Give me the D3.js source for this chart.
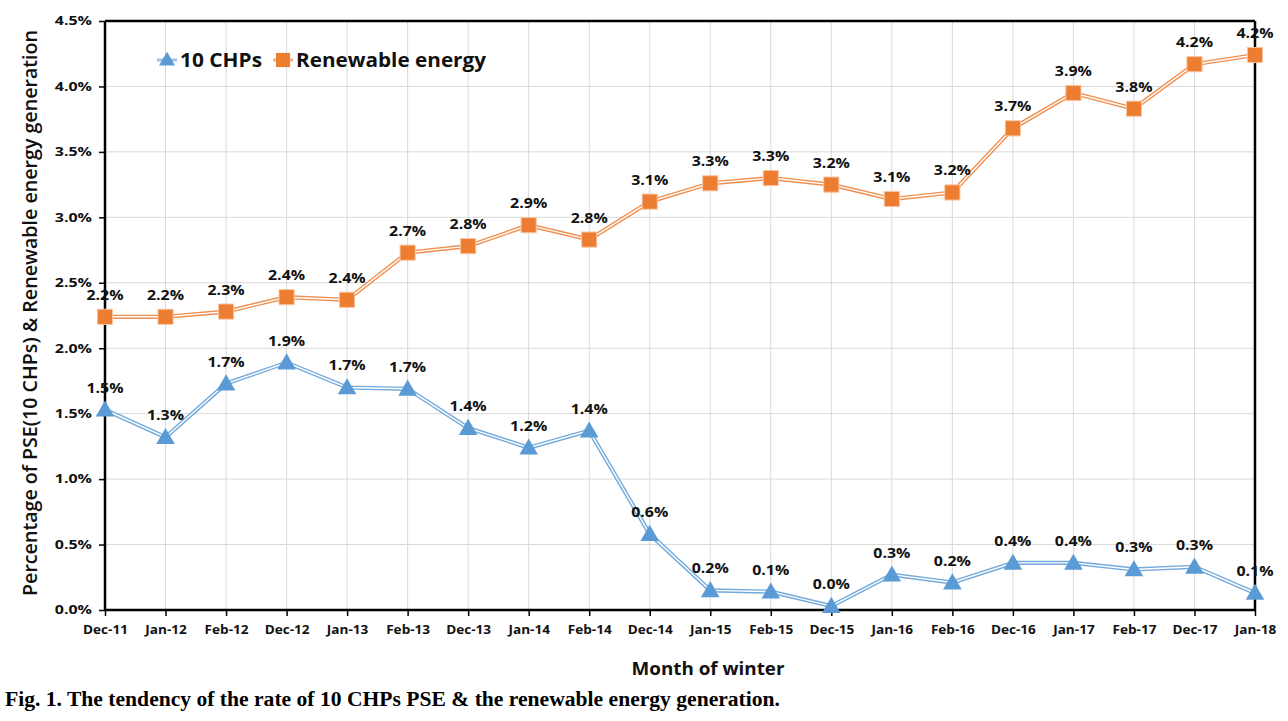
<!DOCTYPE html>
<html><head><meta charset="utf-8">
<script src="https://cdn.jsdelivr.net/npm/d3@7"></script>
<style>body{margin:0;background:#fff;} svg{display:block;}</style>
</head><body>
<svg id="c" width="1288" height="721"></svg>
<script>
const categories = ["Dec-11","Jan-12","Feb-12","Dec-12","Jan-13","Feb-13","Dec-13","Jan-14","Feb-14","Dec-14","Jan-15","Feb-15","Dec-15","Jan-16","Feb-16","Dec-16","Jan-17","Feb-17","Dec-17","Jan-18"];
const chpValues = [1.53,1.32,1.73,1.89,1.70,1.69,1.39,1.24,1.37,0.58,0.15,0.14,0.03,0.27,0.21,0.36,0.36,0.31,0.33,0.13];
const chpLabels = ["1.5%","1.3%","1.7%","1.9%","1.7%","1.7%","1.4%","1.2%","1.4%","0.6%","0.2%","0.1%","0.0%","0.3%","0.2%","0.4%","0.4%","0.3%","0.3%","0.1%"];
const renValues = [2.24,2.24,2.28,2.39,2.37,2.73,2.78,2.94,2.83,3.12,3.26,3.30,3.25,3.14,3.19,3.68,3.95,3.83,4.17,4.24];
const renLabels = ["2.2%","2.2%","2.3%","2.4%","2.4%","2.7%","2.8%","2.9%","2.8%","3.1%","3.3%","3.3%","3.2%","3.1%","3.2%","3.7%","3.9%","3.8%","4.2%","4.2%"];
const yTicks = [0,0.5,1.0,1.5,2.0,2.5,3.0,3.5,4.0,4.5];
const seriesNames = ["10 CHPs","Renewable energy"];

const svg = d3.select("#c");
const L = 105, R = 1255, T = 21, B = 610;
const x = d3.scalePoint().domain(categories).range([L, R]);
const y = d3.scaleLinear().domain([0, 4.5]).range([B, T]);
const font = "'Open Sans', Lato, sans-serif";
const blue = "#5B9BD5", orange = "#ED7D31";

function stretch(sel, k) {
  sel.each(function () {
    const l = this.getComputedTextLength();
    d3.select(this).attr("textLength", l * k).attr("lengthAdjust", "spacingAndGlyphs");
  });
}

// gridlines
svg.append("g").selectAll("line").data(yTicks).join("line")
  .attr("x1", L).attr("x2", R).attr("y1", d => y(d)).attr("y2", d => y(d))
  .attr("stroke", "#d9d9d9").attr("stroke-width", 1);
svg.append("g").selectAll("line").data(categories).join("line")
  .attr("x1", d => x(d)).attr("x2", d => x(d)).attr("y1", T).attr("y2", B)
  .attr("stroke", "#d9d9d9").attr("stroke-width", 1);

// frame top/right
svg.append("line").attr("x1", L).attr("x2", R).attr("y1", T).attr("y2", T).attr("stroke", "#000").attr("stroke-width", 2.5);
svg.append("line").attr("x1", R).attr("x2", R).attr("y1", T).attr("y2", B).attr("stroke", "#000").attr("stroke-width", 2.5);

// axes
const yAxis = svg.append("g").attr("transform", `translate(${L},0)`)
  .call(d3.axisLeft(y).tickValues(yTicks).tickSize(6).tickPadding(7).tickFormat(d => d.toFixed(1) + "%"));
const xAxis = svg.append("g").attr("transform", `translate(0,${B})`)
  .call(d3.axisBottom(x).tickSize(6).tickPadding(9));
[yAxis, xAxis].forEach(g => {
  g.select(".domain").attr("stroke", "#000").attr("stroke-width", 2.5);
  g.selectAll(".tick line").attr("stroke", "#000").attr("stroke-width", 1.5);
  g.selectAll("text").attr("fill", "#111").style("font-family", font).style("font-weight", "bold");
});
yAxis.selectAll("text").style("font-size", "12px");
xAxis.selectAll("text").style("font-size", "12px");
stretch(yAxis.selectAll(".tick text"), 1.33);
stretch(xAxis.selectAll(".tick text"), 1.13);
yAxis.select(".domain").attr("d", `M0,${T}V${B}`);
xAxis.select(".domain").attr("d", `M${L},0H${R}`);

const line = d3.line().x((d, i) => x(categories[i])).y(d => y(d));

function series(vals, labels, color, shape) {
  const g = svg.append("g");
  g.append("path").datum(vals).attr("d", line).attr("fill", "none").attr("stroke", color).attr("stroke-width", 4.2).attr("stroke-opacity", 0.85);
  g.append("path").datum(vals).attr("d", line).attr("fill", "none").attr("stroke", "#fff").attr("stroke-width", 1.4);
  const sym = d3.symbol().type(shape).size(shape === d3.symbolTriangle ? 150 : 230);
  g.selectAll("path.m").data(vals).join("path").attr("class", "m")
    .attr("d", sym).attr("transform", (d, i) => `translate(${x(categories[i])},${y(d) + (shape === d3.symbolTriangle ? 1.5 : 0)})`)
    .attr("fill", color).attr("stroke", shape === d3.symbolTriangle ? "none" : "#f7c6a3").attr("stroke-width", 1);
  const t = g.selectAll("text").data(vals).join("text")
    .attr("x", (d, i) => x(categories[i])).attr("y", d => y(d) - 17)
    .attr("text-anchor", "middle")
    .style("font-family", font).style("font-weight", "bold").style("font-size", "13.5px").attr("fill", "#111")
    .text((d, i) => labels[i]);
  stretch(t, 1.18);
}
series(renValues, renLabels, orange, d3.symbolSquare);
series(chpValues, chpLabels, blue, d3.symbolTriangle);

// legend
const lg = svg.append("g");
const legendItems = [
  {name: seriesNames[0], color: blue, shape: d3.symbolTriangle, x: 167, w: 82},
  {name: seriesNames[1], color: orange, shape: d3.symbolSquare, x: 283, w: 190}
];
legendItems.forEach(it => {
  lg.append("line").attr("x1", it.x - 10).attr("x2", it.x + 10).attr("y1", 60).attr("y2", 60).attr("stroke", it.color).attr("stroke-width", 3).attr("stroke-opacity", 0.6);
  lg.append("path").attr("d", d3.symbol().type(it.shape).size(it.shape === d3.symbolTriangle ? 110 : 200)())
    .attr("transform", `translate(${it.x},${it.shape === d3.symbolTriangle ? 61 : 60})`).attr("fill", it.color);
  lg.append("text").attr("x", it.x + 13).attr("y", 67).text(it.name)
    .attr("textLength", it.w).attr("lengthAdjust", "spacingAndGlyphs")
    .style("font-family", font).style("font-weight", "bold").style("font-size", "19px").attr("fill", "#111");
});

// axis titles
svg.append("text").attr("transform", `translate(37,${313}) rotate(-90)`).attr("text-anchor", "middle")
  .attr("textLength", 566).attr("lengthAdjust", "spacingAndGlyphs")
  .style("font-family", font).style("font-weight", "600").style("font-size", "19px").attr("fill", "#111")
  .text("Percentage of PSE(10 CHPs)  & Renewable energy generation");
svg.append("text").attr("x", 708).attr("y", 675).attr("text-anchor", "middle")
  .attr("textLength", 153).attr("lengthAdjust", "spacingAndGlyphs")
  .style("font-family", font).style("font-weight", "bold").style("font-size", "18px").attr("fill", "#111")
  .text("Month of winter");
svg.append("text").attr("x", 5).attr("y", 706)
  .attr("textLength", 775).attr("lengthAdjust", "spacingAndGlyphs")
  .style("font-family", "'Liberation Serif', 'Times New Roman', serif").style("font-weight", "bold").style("font-size", "20px").attr("fill", "#000")
  .text("Fig. 1. The tendency of the rate of 10 CHPs PSE & the renewable energy generation.");
</script>
</body></html>
